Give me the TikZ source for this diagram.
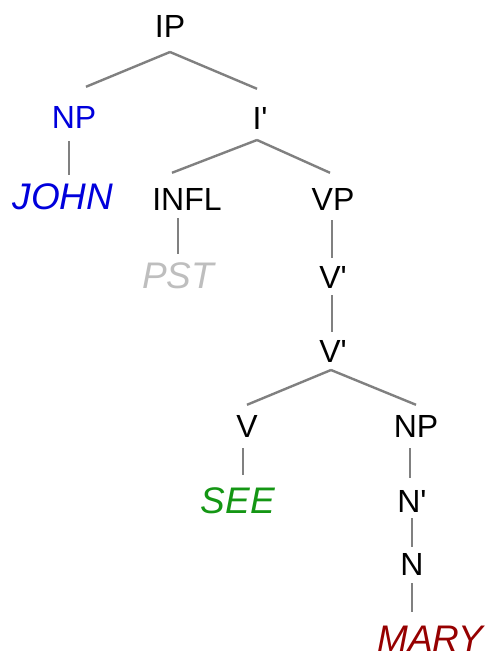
\documentclass[tikz,border=0pt]{standalone}
\usepackage{fontspec}
\setmainfont{Liberation Sans}
\definecolor{npblue}{RGB}{0,0,220}
\definecolor{leafgreen}{RGB}{20,150,20}
\definecolor{leafred}{RGB}{150,0,0}
\definecolor{leafgray}{RGB}{190,190,190}
\definecolor{edgegray}{RGB}{128,128,128}
\tikzset{
  cat/.style={anchor=base, inner sep=0pt, font=\fontsize{32}{36}\selectfont, text=black},
  leaf/.style={anchor=base, inner sep=0pt, font=\fontsize{37}{42}\selectfont\itshape},
  edge/.style={draw=edgegray, line width=2.4pt}
}
\begin{document}
\begin{tikzpicture}[x=1pt,y=1pt]
\useasboundingbox[fill=white] (0,0) rectangle (489,-657);
% nodes
\node[cat] (IP) at (170,-37) {IP};
\node[cat, text=npblue] (NP1) at (74,-128) {NP};
\node[cat] (Ibar) at (260,-129) {I\textquotesingle};
\node[leaf, text=npblue] (JOHN) at (63,-209) {JOHN};
\node[cat] (INFL) at (187,-210) {INFL};
\node[cat] (VP) at (333,-210) {VP};
\node[leaf, text=leafgray] (PST) at (178,-288) {PST};
\node[cat] (Vbar1) at (333,-288) {V\textquotesingle};
\node[cat] (Vbar2) at (333,-362) {V\textquotesingle};
\node[cat] (V) at (247,-437) {V};
\node[cat] (NP2) at (416,-437) {NP};
\node[leaf, text=leafgreen] (SEE) at (238,-513) {SEE};
\node[cat] (Nbar) at (412,-512) {N\textquotesingle};
\node[cat] (N) at (412,-575) {N};
\node[leaf, text=leafred] (MARY) at (430,-651) {MARY};
% connector anchor points
\coordinate (IPb) at ([yshift=-15pt]IP.base);
\coordinate (NP1t) at ([xshift=12pt,yshift=19pt]NP1.north);
\coordinate (Ibart) at ([xshift=-3pt,yshift=18pt]Ibar.north);
\coordinate (Ibarb) at ([xshift=-3pt,yshift=-11pt]Ibar.base);
\coordinate (INFLt) at ([xshift=-15pt,yshift=15pt]INFL.north);
\coordinate (VPt) at ([xshift=-3pt,yshift=15pt]VP.north);
\coordinate (Vbar2b) at ([xshift=-2pt,yshift=-8pt]Vbar2.base);
\coordinate (Vt) at ([yshift=10pt]V.north);
\coordinate (NP2t) at ([yshift=10pt]NP2.north);
% edges
\draw[edge] (IPb) -- (NP1t);
\draw[edge] (IPb) -- (Ibart);
\draw[edge] ([xshift=-5pt,yshift=-13pt]NP1.base) -- ([xshift=6pt,yshift=8pt]JOHN.north);
\draw[edge] (Ibarb) -- (INFLt);
\draw[edge] (Ibarb) -- (VPt);
\draw[edge] ([xshift=-9pt,yshift=-8pt]INFL.base) -- ([yshift=8pt]PST.north);
\draw[edge] ([xshift=-1pt,yshift=-10pt]VP.base) -- ([xshift=-1pt,yshift=8pt]Vbar1.north);
\draw[edge] ([xshift=-1pt,yshift=-7pt]Vbar1.base) -- ([xshift=-1pt,yshift=8pt]Vbar2.north);
\draw[edge] (Vbar2b) -- (Vt);
\draw[edge] (Vbar2b) -- (NP2t);
\draw[edge] ([xshift=-4pt,yshift=-11pt]V.base) -- ([xshift=5pt,yshift=12pt]SEE.north);
\draw[edge] ([xshift=-6pt,yshift=-11pt]NP2.base) -- ([xshift=-2pt,yshift=12pt]Nbar.north);
\draw[edge] ([yshift=-6pt]Nbar.base) -- ([yshift=6pt]N.north);
\draw[edge] ([yshift=-8pt]N.base) -- ([xshift=-18pt,yshift=13pt]MARY.north);
\end{tikzpicture}
\end{document}
